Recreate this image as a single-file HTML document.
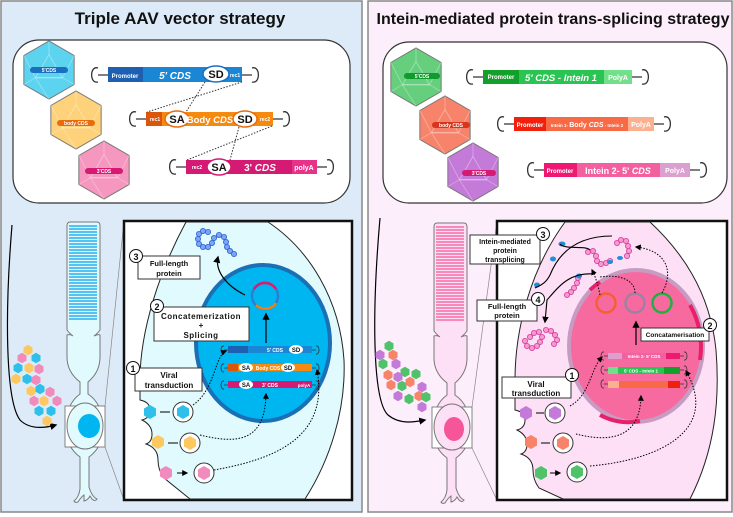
<!DOCTYPE html>
<html><head><meta charset="utf-8"><style>
html,body{margin:0;padding:0;background:#fff;}
svg{display:block;font-family:"Liberation Sans",sans-serif;}
.t{font-weight:bold;fill:#fff;}
.lb{font-weight:bold;fill:#111;}
</style></head><body>
<svg width="733" height="517" viewBox="0 0 733 517" xmlns="http://www.w3.org/2000/svg">
<defs>
<symbol id="hex" viewBox="-31 -31 62 62" overflow="visible">
<polygon points="0,-30 26,-15 26,15 0,30 -26,15 -26,-15" fill="currentColor" stroke="#777" stroke-width="1"/>
<polygon points="0,-16 14,8 -14,8" fill="none" stroke="#fff" stroke-opacity=".35" stroke-width="1"/>
<path d="M0,-30 L0,-16 M26,-15 L14,8 M26,15 L14,8 M0,30 L-14,8 L14,8 M-26,15 L-14,8 M-26,-15 L-14,8" stroke="#fff" stroke-opacity=".3" fill="none"/>
</symbol>
<symbol id="vh" viewBox="-8 -8 16 16" overflow="visible">
<polygon points="0,-7 6,-3.5 6,3.5 0,7 -6,3.5 -6,-3.5" fill="currentColor"/>
</symbol>
<marker id="ar" viewBox="0 0 10 10" refX="8" refY="5" markerWidth="6" markerHeight="6" orient="auto"><path d="M0,0 L10,5 L0,10z" fill="#000"/></marker>
</defs>

<rect x="1" y="1" width="361" height="511" fill="#ddebf8" stroke="#888" stroke-width="1.5"/>
<rect x="368" y="1" width="364" height="511" fill="#fdeefc" stroke="#888" stroke-width="1.5"/>

<text x="180" y="24" text-anchor="middle" class="lb" font-size="17">Triple AAV vector strategy</text>
<text x="553" y="24" text-anchor="middle" class="lb" font-size="16">Intein-mediated protein trans-splicing strategy</text>

<rect x="13" y="40" width="337" height="163" rx="26" fill="#fff" stroke="#333" stroke-width="1.2"/>
<rect x="383" y="42" width="344" height="161" rx="26" fill="#fff" stroke="#333" stroke-width="1.2"/>

<use href="#hex" x="19" y="40" width="60" height="60" style="color:#5cd3ef"/>
<use href="#hex" x="46" y="90" width="60" height="60" style="color:#fdd27a"/>
<use href="#hex" x="74" y="140" width="60" height="60" style="color:#f597be"/>
<rect x="30" y="67" width="38" height="6" rx="3" fill="#1a6fc0"/><text x="49" y="72" font-size="5" text-anchor="middle" class="t">5'CDS</text>
<rect x="57" y="120" width="38" height="6" rx="3" fill="#e86b0c"/><text x="76" y="125" font-size="5" text-anchor="middle" class="t">body CDS</text>
<rect x="85" y="168" width="38" height="6" rx="3" fill="#d41a73"/><text x="104" y="173" font-size="5" text-anchor="middle" class="t">3'CDS</text>

<g stroke="#333" stroke-width="1.3" fill="none">
<path d="M108,75 h-10 m0,-7 c-8,-3 -9,16 0,14 M242,75 h10 m0,-7 c8,-3 9,16 0,14"/>
<path d="M146,119 h-10 m0,-7 c-8,-3 -9,16 0,14 M273,119 h10 m0,-7 c8,-3 9,16 0,14"/>
<path d="M186,167 h-10 m0,-7 c-8,-3 -9,16 0,14 M317,167 h10 m0,-7 c8,-3 9,16 0,14"/>
</g>
<rect x="108" y="67" width="35" height="15" fill="#1d5fb0"/>
<rect x="143" y="67" width="99" height="15" fill="#1a86d4"/>
<text x="125" y="78" font-size="6" text-anchor="middle" class="t">Promoter</text>
<text x="175" y="79" font-size="10" text-anchor="middle" class="t" font-style="italic">5' CDS</text>
<ellipse cx="216" cy="74" rx="13" ry="8" fill="#fff" stroke="#1a6fc0" stroke-width="1.5"/><text x="216" y="78" font-size="11" text-anchor="middle" class="lb">SD</text>
<text x="235" y="77" font-size="5" text-anchor="middle" class="t">rec1</text>

<rect x="146" y="112" width="16" height="14" fill="#d9560a"/>
<rect x="162" y="112" width="111" height="14" fill="#f58a10"/>
<text x="155" y="121" font-size="5" text-anchor="middle" class="t">rec1</text>
<ellipse cx="177" cy="119" rx="12" ry="8" fill="#fff" stroke="#e86b0c" stroke-width="1.5"/><text x="177" y="123" font-size="11" text-anchor="middle" class="lb">SA</text>
<text x="210" y="123" font-size="9.5" text-anchor="middle" class="t">Body <tspan font-style="italic">CDS</tspan></text>
<ellipse cx="245" cy="119" rx="12" ry="8" fill="#fff" stroke="#e86b0c" stroke-width="1.5"/><text x="245" y="123" font-size="11" text-anchor="middle" class="lb">SD</text>
<text x="265" y="121" font-size="5" text-anchor="middle" class="t">rec2</text>

<rect x="186" y="160" width="106" height="14" fill="#d41a73"/>
<rect x="292" y="160" width="25" height="14" fill="#e8328a"/>
<text x="197" y="169" font-size="5" text-anchor="middle" class="t">rec2</text>
<ellipse cx="219" cy="167" rx="12" ry="8" fill="#fff" stroke="#d41a73" stroke-width="1.5"/><text x="219" y="171" font-size="11" text-anchor="middle" class="lb">SA</text>
<text x="260" y="171" font-size="10" text-anchor="middle" class="t">3' <tspan font-style="italic">CDS</tspan></text>
<text x="304" y="170" font-size="7" text-anchor="middle" class="t">polyA</text>
<g stroke="#333" stroke-width="1" stroke-dasharray="1.5,1.5">
<line x1="205" y1="82" x2="186" y2="112"/><line x1="242" y1="82" x2="147" y2="112"/>
<line x1="239" y1="127" x2="230" y2="160"/><line x1="272" y1="126" x2="187" y2="160"/>
</g>

<use href="#hex" x="386" y="47" width="60" height="60" style="color:#66cf7e"/>
<use href="#hex" x="415" y="95" width="60" height="60" style="color:#f7836b"/>
<use href="#hex" x="443" y="142" width="60" height="60" style="color:#c37ad8"/>
<rect x="404" y="73" width="36" height="6" rx="3" fill="#119a30"/><text x="422" y="78" font-size="5" text-anchor="middle" class="t">5'CDS</text>
<rect x="432" y="122" width="38" height="6" rx="3" fill="#d9341c"/><text x="451" y="127" font-size="5" text-anchor="middle" class="t">body CDS</text>
<rect x="462" y="170" width="34" height="6" rx="3" fill="#d41a73"/><text x="479" y="175" font-size="5" text-anchor="middle" class="t">3'CDS</text>

<g stroke="#333" stroke-width="1.3" fill="none">
<path d="M483,77 h-10 m0,-7 c-8,-3 -9,16 0,14 M632,77 h10 m0,-7 c8,-3 9,16 0,14"/>
<path d="M514,124 h-10 m0,-7 c-8,-3 -9,16 0,14 M654,124 h10 m0,-7 c8,-3 9,16 0,14"/>
<path d="M544,170 h-10 m0,-7 c-8,-3 -9,16 0,14 M690,170 h10 m0,-7 c8,-3 9,16 0,14"/>
</g>
<rect x="483" y="70" width="36" height="14" fill="#13a02a"/>
<rect x="519" y="70" width="85" height="14" fill="#29c452"/>
<rect x="604" y="70" width="28" height="14" fill="#72e08a"/>
<text x="501" y="79" font-size="6" text-anchor="middle" class="t">Promoter</text>
<text x="561" y="81" font-size="9.5" text-anchor="middle" class="t" font-style="italic">5' CDS - Intein 1</text>
<text x="618" y="80" font-size="7" text-anchor="middle" class="t">PolyA</text>
<rect x="514" y="117" width="32" height="14" fill="#f0200c"/>
<rect x="546" y="117" width="82" height="14" fill="#f86a45"/>
<rect x="628" y="117" width="26" height="14" fill="#fbb090"/>
<text x="530" y="127" font-size="6" text-anchor="middle" class="t">Promoter</text>
<text x="587" y="127" font-size="7" text-anchor="middle" class="t"><tspan font-size="4.5">Intein 1- </tspan>Body <tspan font-style="italic">CDS</tspan><tspan font-size="4.5"> - Intein 2</tspan></text>
<text x="641" y="127" font-size="7" text-anchor="middle" class="t">PolyA</text>
<rect x="544" y="163" width="33" height="14" fill="#ee1a72"/>
<rect x="577" y="163" width="83" height="14" fill="#f260a0"/>
<rect x="660" y="163" width="30" height="14" fill="#dca0d0"/>
<text x="560" y="173" font-size="6" text-anchor="middle" class="t">Promoter</text>
<text x="618" y="174" font-size="9" text-anchor="middle" class="t">Intein 2- 5' <tspan font-style="italic">CDS</tspan></text>
<text x="675" y="173" font-size="7" text-anchor="middle" class="t">PolyA</text>

<!-- LEFT BOTTOM -->
<path d="M12,225 C5,310 5,400 20,420 C30,430 45,428 56,425" fill="none" stroke="#000" stroke-width="1.2" marker-end="url(#ar)"/>
<g>
<path d="M70,222 h27 q3,0 3,4 v104 q-3,4 -6,6 q4,-2 6,-1 v22 q0,15 -12,25 v12 q15,10 15,33 q0,20 -14,30 v30 q3,10 8,12 q-2,3 -5,0 l-2,-3 q-2,4 -6,5 l0,-6 q-3,2 -6,7 q-3,1 -4,-1 q5,-4 6,-12 v-32 q-14,-10 -14,-30 q0,-23 14,-33 v-12 q-13,-10 -13,-25 v-22 q3,-1 6,1 q-3,-2 -6,-6 v-104 q0,-4 3,-4z" fill="#e0fafd" stroke="#777" stroke-width="1"/>
<g stroke="#29b0ee" stroke-width="1.6">
<line x1="69" y1="226" x2="97" y2="226"/><line x1="69" y1="229" x2="97" y2="229"/><line x1="69" y1="232" x2="97" y2="232"/><line x1="69" y1="235" x2="97" y2="235"/><line x1="69" y1="238" x2="97" y2="238"/><line x1="69" y1="241" x2="97" y2="241"/><line x1="69" y1="244" x2="97" y2="244"/><line x1="69" y1="247" x2="97" y2="247"/><line x1="69" y1="250" x2="97" y2="250"/><line x1="69" y1="253" x2="97" y2="253"/><line x1="69" y1="256" x2="97" y2="256"/><line x1="69" y1="259" x2="97" y2="259"/><line x1="69" y1="262" x2="97" y2="262"/><line x1="69" y1="265" x2="97" y2="265"/><line x1="69" y1="268" x2="97" y2="268"/><line x1="69" y1="271" x2="97" y2="271"/><line x1="69" y1="274" x2="97" y2="274"/><line x1="69" y1="277" x2="97" y2="277"/><line x1="69" y1="280" x2="97" y2="280"/><line x1="69" y1="283" x2="97" y2="283"/><line x1="69" y1="286" x2="97" y2="286"/><line x1="69" y1="289" x2="97" y2="289"/><line x1="69" y1="292" x2="97" y2="292"/><line x1="69" y1="295" x2="97" y2="295"/><line x1="69" y1="298" x2="97" y2="298"/><line x1="69" y1="301" x2="97" y2="301"/><line x1="69" y1="304" x2="97" y2="304"/><line x1="69" y1="307" x2="97" y2="307"/><line x1="69" y1="310" x2="97" y2="310"/><line x1="69" y1="313" x2="97" y2="313"/><line x1="69" y1="316" x2="97" y2="316"/><line x1="69" y1="319" x2="97" y2="319"/>
</g>
<rect x="65" y="406" width="40" height="41" fill="#fff" stroke="#666" stroke-width="0.8"/>
<ellipse cx="85" cy="426" rx="18" ry="23" fill="#e0fafd" stroke="#777"/>
<ellipse cx="89" cy="426" rx="11" ry="12" fill="#00b6f0"/>
<line x1="105" y1="406" x2="124" y2="221" stroke="#888" stroke-width="0.7"/>
<line x1="105" y1="447" x2="124" y2="500" stroke="#888" stroke-width="0.7"/>
</g>
<g>
<use href="#vh" x="22" y="344" width="12" height="12" style="color:#fdc860"/>
<use href="#vh" x="16" y="352" width="12" height="12" style="color:#f28bbd"/>
<use href="#vh" x="30" y="352" width="12" height="12" style="color:#2ec0ea"/>
<use href="#vh" x="12" y="362" width="12" height="12" style="color:#2ec0ea"/>
<use href="#vh" x="23" y="362" width="12" height="12" style="color:#fdc860"/>
<use href="#vh" x="33" y="363" width="12" height="12" style="color:#f28bbd"/>
<use href="#vh" x="10" y="373" width="12" height="12" style="color:#fdc860"/>
<use href="#vh" x="21" y="373" width="12" height="12" style="color:#2ec0ea"/>
<use href="#vh" x="30" y="374" width="12" height="12" style="color:#f28bbd"/>
<use href="#vh" x="25" y="385" width="12" height="12" style="color:#fdc860"/>
<use href="#vh" x="34" y="383" width="12" height="12" style="color:#2ec0ea"/>
<use href="#vh" x="44" y="386" width="12" height="12" style="color:#f28bbd"/>
<use href="#vh" x="28" y="395" width="12" height="12" style="color:#f28bbd"/>
<use href="#vh" x="38" y="395" width="12" height="12" style="color:#fdc860"/>
<use href="#vh" x="51" y="395" width="12" height="12" style="color:#f28bbd"/>
<use href="#vh" x="33" y="405" width="12" height="12" style="color:#2ec0ea"/>
<use href="#vh" x="45" y="405" width="12" height="12" style="color:#2ec0ea"/>
<use href="#vh" x="41" y="415" width="12" height="12" style="color:#fdc860"/>
</g>

<rect x="124" y="221" width="228" height="279" fill="#fff" stroke="#111" stroke-width="2.5"/>
<path d="M186,222 C160,270 140,330 140,380 L140,400 q10,2 10,10 q0,8 -8,10 q10,5 10,14 q0,8 -6,10 q12,4 12,16 q0,10 6,18 L190,499 L305,499 C330,460 346,410 344,360 C340,300 310,250 268,222 Z" fill="#e0fafd" stroke="#222" stroke-width="1"/>
<ellipse cx="263" cy="343" rx="67" ry="78" fill="#00b6f0" stroke="#1b6fb5" stroke-width="4"/>
<circle cx="265" cy="296" r="13" fill="none" stroke="#2a7fd0" stroke-width="2.5"/>
<path d="M254,289 A13,13 0 0 1 276,289" fill="none" stroke="#e0186f" stroke-width="2.5"/>
<path d="M256,305 A13,13 0 0 0 276,303" fill="none" stroke="#f08010" stroke-width="2.5"/>
<line x1="266" y1="343" x2="266" y2="314" stroke="#000" stroke-width="1.2" marker-end="url(#ar)"/>
<path d="M245,295 C225,285 215,270 218,257" fill="none" stroke="#000" stroke-width="1.2" marker-end="url(#ar)"/>
<g fill="#7ba6f5" stroke="#2d5fd0" stroke-width="0.8">
<circle cx="199" cy="234" r="2.6"/><circle cx="203" cy="231" r="2.6"/><circle cx="208" cy="232" r="2.6"/><circle cx="198" cy="239" r="2.6"/><circle cx="199" cy="244" r="2.6"/><circle cx="203" cy="247" r="2.6"/><circle cx="208" cy="247" r="2.6"/><circle cx="212" cy="243" r="2.6"/><circle cx="214" cy="238" r="2.6"/><circle cx="219" cy="235" r="2.6"/><circle cx="224" cy="237" r="2.6"/><circle cx="226" cy="242" r="2.6"/><circle cx="227" cy="247" r="2.6"/><circle cx="230" cy="251" r="2.6"/><circle cx="234" cy="254" r="2.6"/>
</g>
<g stroke="#333" stroke-width="0.8" fill="none">
<path d="M228,350 h-4 m0,-4 c-4,-1 -4,9 0,8 M312,350 h4 m0,-4 c4,-1 4,9 0,8"/>
<path d="M228,368 h-4 m0,-4 c-4,-1 -4,9 0,8 M312,368 h4 m0,-4 c4,-1 4,9 0,8"/>
<path d="M228,385 h-4 m0,-4 c-4,-1 -4,9 0,8 M312,385 h4 m0,-4 c4,-1 4,9 0,8"/>
</g>
<rect x="228" y="346" width="20" height="7" fill="#1d5fb0"/><rect x="248" y="346" width="64" height="7" fill="#1a86d4"/>
<text x="275" y="352" font-size="5" text-anchor="middle" class="t">5' CDS</text>
<ellipse cx="296" cy="349.5" rx="7" ry="4.5" fill="#fff"/><text x="296" y="352" font-size="6" text-anchor="middle" class="lb">SD</text>
<rect x="228" y="364" width="84" height="7" fill="#f58a10"/><rect x="228" y="364" width="10" height="7" fill="#d9560a"/>
<ellipse cx="246" cy="367.5" rx="7" ry="4.5" fill="#fff"/><text x="246" y="370" font-size="6" text-anchor="middle" class="lb">SA</text>
<text x="268" y="370" font-size="5" text-anchor="middle" class="t">Body CDS</text>
<ellipse cx="288" cy="367.5" rx="7" ry="4.5" fill="#fff"/><text x="288" y="370" font-size="6" text-anchor="middle" class="lb">SD</text>
<rect x="228" y="381" width="84" height="7" fill="#d41a73"/>
<ellipse cx="246" cy="384.5" rx="7" ry="4.5" fill="#fff"/><text x="246" y="387" font-size="6" text-anchor="middle" class="lb">SA</text>
<text x="270" y="387" font-size="5" text-anchor="middle" class="t">3' CDS</text>
<text x="304" y="387" font-size="4.5" text-anchor="middle" class="t">polyA</text>
<g>
<use href="#vh" x="142" y="404" width="16" height="16" style="color:#2ec0ea"/>
<circle cx="183" cy="412" r="10" fill="#fff" stroke="#333"/><use href="#vh" x="175" y="404" width="16" height="16" style="color:#2ec0ea"/>
<use href="#vh" x="150" y="434" width="16" height="16" style="color:#fdc860"/>
<circle cx="190" cy="443" r="10" fill="#fff" stroke="#333"/><use href="#vh" x="182" y="435" width="16" height="16" style="color:#fdc860"/>
<use href="#vh" x="158" y="465" width="16" height="16" style="color:#f28bbd"/>
<circle cx="204" cy="473" r="10" fill="#fff" stroke="#333"/><use href="#vh" x="196" y="465" width="16" height="16" style="color:#f28bbd"/>
<path d="M160,412 h10 M168,443 h10 M177,473 h10" stroke="#000" marker-end="url(#ar)"/>
</g>
<g fill="none" stroke="#000" stroke-width="1" stroke-dasharray="1.5,1.5" marker-end="url(#ar)">
<path d="M193,405 C215,390 215,355 226,351"/>
<path d="M200,435 C240,445 265,440 266,394"/>
<path d="M214,470 C270,460 330,440 317,370"/>
</g>
<rect x="138" y="256" width="62" height="23" fill="#fff" stroke="#333"/>
<text x="169" y="266" font-size="7.5" text-anchor="middle" class="lb">Full-length</text><text x="169" y="276" font-size="7.5" text-anchor="middle" class="lb">protein</text>
<circle cx="136" cy="256" r="6.5" fill="#fff" stroke="#111"/><text x="136" y="260" font-size="9" text-anchor="middle" class="lb">3</text>
<rect x="154" y="307" width="95" height="34" fill="#fff" stroke="#333"/>
<text x="201" y="319" font-size="8" text-anchor="middle" class="lb" letter-spacing=".5">Concatemerization</text><text x="201" y="328" font-size="8" text-anchor="middle" class="lb">+</text><text x="201" y="338" font-size="8" text-anchor="middle" class="lb" letter-spacing=".5">Splicing</text>
<circle cx="157" cy="306" r="6.5" fill="#fff" stroke="#111"/><text x="157" y="310" font-size="9" text-anchor="middle" class="lb">2</text>
<rect x="135" y="368" width="67" height="23" fill="#fff" stroke="#333"/>
<text x="169" y="378" font-size="8" text-anchor="middle" class="lb">Viral</text><text x="169" y="388" font-size="8" text-anchor="middle" class="lb">transduction</text>
<circle cx="133" cy="368" r="6.5" fill="#fff" stroke="#111"/><text x="133" y="372" font-size="9" text-anchor="middle" class="lb">1</text>

<!-- RIGHT BOTTOM -->
<path d="M380,218 C372,310 372,400 388,415 C400,425 415,422 425,420" fill="none" stroke="#000" stroke-width="1.2" marker-end="url(#ar)"/>
<g transform="translate(367,1)">
<path d="M70,222 h27 q3,0 3,4 v104 q-3,4 -6,6 q4,-2 6,-1 v22 q0,15 -12,25 v12 q15,10 15,33 q0,20 -14,30 v30 q3,10 8,12 q-2,3 -5,0 l-2,-3 q-2,4 -6,5 l0,-6 q-3,2 -6,7 q-3,1 -4,-1 q5,-4 6,-12 v-32 q-14,-10 -14,-30 q0,-23 14,-33 v-12 q-13,-10 -13,-25 v-22 q3,-1 6,1 q-3,-2 -6,-6 v-104 q0,-4 3,-4z" fill="#fde0f6" stroke="#777" stroke-width="1"/>
<g stroke="#f56aa5" stroke-width="1.6">
<line x1="69" y1="226" x2="97" y2="226"/><line x1="69" y1="229" x2="97" y2="229"/><line x1="69" y1="232" x2="97" y2="232"/><line x1="69" y1="235" x2="97" y2="235"/><line x1="69" y1="238" x2="97" y2="238"/><line x1="69" y1="241" x2="97" y2="241"/><line x1="69" y1="244" x2="97" y2="244"/><line x1="69" y1="247" x2="97" y2="247"/><line x1="69" y1="250" x2="97" y2="250"/><line x1="69" y1="253" x2="97" y2="253"/><line x1="69" y1="256" x2="97" y2="256"/><line x1="69" y1="259" x2="97" y2="259"/><line x1="69" y1="262" x2="97" y2="262"/><line x1="69" y1="265" x2="97" y2="265"/><line x1="69" y1="268" x2="97" y2="268"/><line x1="69" y1="271" x2="97" y2="271"/><line x1="69" y1="274" x2="97" y2="274"/><line x1="69" y1="277" x2="97" y2="277"/><line x1="69" y1="280" x2="97" y2="280"/><line x1="69" y1="283" x2="97" y2="283"/><line x1="69" y1="286" x2="97" y2="286"/><line x1="69" y1="289" x2="97" y2="289"/><line x1="69" y1="292" x2="97" y2="292"/><line x1="69" y1="295" x2="97" y2="295"/><line x1="69" y1="298" x2="97" y2="298"/><line x1="69" y1="301" x2="97" y2="301"/><line x1="69" y1="304" x2="97" y2="304"/><line x1="69" y1="307" x2="97" y2="307"/><line x1="69" y1="310" x2="97" y2="310"/><line x1="69" y1="313" x2="97" y2="313"/><line x1="69" y1="316" x2="97" y2="316"/><line x1="69" y1="319" x2="97" y2="319"/>
</g>
<rect x="65" y="406" width="40" height="41" fill="#fff" stroke="#666" stroke-width="0.8"/>
<ellipse cx="85" cy="426" rx="18" ry="23" fill="#fde0f6" stroke="#777"/>
<ellipse cx="87" cy="428" rx="10" ry="12" fill="#f7559a"/>
</g>
<line x1="472" y1="407" x2="497" y2="221" stroke="#888" stroke-width="0.7"/>
<line x1="472" y1="448" x2="497" y2="500" stroke="#888" stroke-width="0.7"/>
<g>
<use href="#vh" x="383" y="340" width="12" height="12" style="color:#4fc26a"/>
<use href="#vh" x="374" y="349" width="12" height="12" style="color:#c37ad8"/>
<use href="#vh" x="387" y="349" width="12" height="12" style="color:#f7836b"/>
<use href="#vh" x="377" y="358" width="12" height="12" style="color:#4fc26a"/>
<use href="#vh" x="390" y="358" width="12" height="12" style="color:#c37ad8"/>
<use href="#vh" x="399" y="366" width="12" height="12" style="color:#4fc26a"/>
<use href="#vh" x="382" y="369" width="12" height="12" style="color:#f7836b"/>
<use href="#vh" x="392" y="371" width="12" height="12" style="color:#c37ad8"/>
<use href="#vh" x="410" y="368" width="12" height="12" style="color:#4fc26a"/>
<use href="#vh" x="385" y="379" width="12" height="12" style="color:#f7836b"/>
<use href="#vh" x="396" y="380" width="12" height="12" style="color:#4fc26a"/>
<use href="#vh" x="404" y="376" width="12" height="12" style="color:#f7836b"/>
<use href="#vh" x="416" y="381" width="12" height="12" style="color:#c37ad8"/>
<use href="#vh" x="392" y="390" width="12" height="12" style="color:#c37ad8"/>
<use href="#vh" x="403" y="393" width="12" height="12" style="color:#4fc26a"/>
<use href="#vh" x="413" y="390" width="12" height="12" style="color:#f7836b"/>
<use href="#vh" x="420" y="391" width="12" height="12" style="color:#4fc26a"/>
<use href="#vh" x="416" y="401" width="12" height="12" style="color:#c37ad8"/>
</g>

<rect x="497" y="221" width="230" height="279" fill="#fff" stroke="#111" stroke-width="2.5"/>
<path d="M565,222 C530,270 515,330 515,380 L515,410 q10,2 10,10 q0,8 -8,10 q10,5 10,14 q0,8 -6,10 q12,4 12,16 q0,10 6,18 L563,499 L690,499 C715,450 720,400 716,350 C710,290 680,250 650,222 Z" fill="#fde0f6" stroke="#222" stroke-width="1"/>
<ellipse cx="636" cy="346" rx="67" ry="76" fill="#f76aa0" stroke="#c79cc3" stroke-width="4"/>
<path d="M590,290 A67,76 0 0 1 600,282" fill="none" stroke="#ea1f6a" stroke-width="4"/>
<path d="M690,305 A67,76 0 0 1 700,360" fill="none" stroke="#ea1f6a" stroke-width="4"/>
<path d="M600,415 A67,76 0 0 0 640,421" fill="none" stroke="#ea1f6a" stroke-width="4"/>
<circle cx="606" cy="303" r="9.5" fill="none" stroke="#f56030" stroke-width="2.5"/>
<circle cx="635" cy="303" r="9.5" fill="none" stroke="#a080a0" stroke-width="2.5"/>
<circle cx="662" cy="303" r="9.5" fill="none" stroke="#20b040" stroke-width="2.5"/>
<line x1="636" y1="345" x2="636" y2="322" stroke="#000" stroke-width="1.2" marker-end="url(#ar)"/>
<g stroke="#333" stroke-width="0.8" fill="none">
<path d="M608,356 h-4 m0,-4 c-4,-1 -4,9 0,8 M680,356 h4 m0,-4 c4,-1 4,9 0,8"/>
<path d="M608,370 h-4 m0,-4 c-4,-1 -4,9 0,8 M680,370 h4 m0,-4 c4,-1 4,9 0,8"/>
<path d="M608,384 h-4 m0,-4 c-4,-1 -4,9 0,8 M680,384 h4 m0,-4 c4,-1 4,9 0,8"/>
</g>
<rect x="608" y="353" width="14" height="6" fill="#dca0d0"/><rect x="622" y="353" width="44" height="6" fill="#f260a0"/><rect x="666" y="353" width="14" height="6" fill="#ee1a72"/>
<text x="644" y="358" font-size="4.5" text-anchor="middle" class="t">Intein 2- 5' CDS</text>
<rect x="608" y="367" width="10" height="7" fill="#72e08a"/><rect x="618" y="367" width="46" height="7" fill="#29c452"/><rect x="664" y="367" width="16" height="7" fill="#13a02a"/>
<text x="641" y="372.5" font-size="4.5" text-anchor="middle" class="t">5' CDS - Intein 1</text>
<rect x="608" y="381" width="72" height="7" fill="#f86a45"/><rect x="608" y="381" width="11" height="7" fill="#fbb090"/><rect x="668" y="381" width="12" height="7" fill="#f0200c"/>
<g fill="#f49ad0" stroke="#d83a9a" stroke-width="0.8">
<circle cx="617" cy="243" r="2.6"/><circle cx="621" cy="240" r="2.6"/><circle cx="626" cy="241" r="2.6"/><circle cx="628" cy="246" r="2.6"/><circle cx="629" cy="251" r="2.6"/><circle cx="627" cy="256" r="2.6"/>
<circle cx="588" cy="252" r="2.6"/><circle cx="593" cy="251" r="2.6"/><circle cx="596" cy="256" r="2.6"/><circle cx="597" cy="261" r="2.6"/><circle cx="601" cy="264" r="2.6"/><circle cx="606" cy="263" r="2.6"/><circle cx="610" cy="261" r="2.6"/>
<circle cx="578" cy="278" r="2.6"/><circle cx="577" cy="283" r="2.6"/><circle cx="574" cy="288" r="2.6"/><circle cx="571" cy="292" r="2.6"/><circle cx="567" cy="295" r="2.6"/>
<circle cx="530" cy="337" r="2.6"/><circle cx="534" cy="333" r="2.6"/><circle cx="539" cy="332" r="2.6"/><circle cx="542" cy="337" r="2.6"/><circle cx="540" cy="342" r="2.6"/><circle cx="537" cy="346" r="2.6"/><circle cx="532" cy="348" r="2.6"/><circle cx="527" cy="346" r="2.6"/><circle cx="546" cy="330" r="2.6"/><circle cx="551" cy="331" r="2.6"/><circle cx="555" cy="335" r="2.6"/><circle cx="557" cy="340" r="2.6"/><circle cx="554" cy="344" r="2.6"/><circle cx="525" cy="341" r="2.6"/>
</g>
<g fill="#1f8fd8"><ellipse cx="562" cy="244" rx="3.5" ry="2.5"/><ellipse cx="553" cy="259" rx="3" ry="2.5"/><ellipse cx="610" cy="262" rx="3" ry="2"/><ellipse cx="579" cy="276" rx="3" ry="2.5"/><ellipse cx="537" cy="285" rx="3" ry="2.5"/><ellipse cx="620" cy="258" rx="3" ry="2"/></g>
<g fill="none" stroke="#000" stroke-width="1.1">
<path d="M612,236 C580,236 560,250 550,275 C545,285 538,286 535,288"/>
<path d="M595,274 C570,272 560,285 547,300 L545,322" marker-end="url(#ar)"/>
<path d="M560,244 C565,250 585,245 590,250"/>
</g>
<g fill="none" stroke="#000" stroke-width="1" stroke-dasharray="1.5,1.5">
<path d="M600,295 C598,285 596,278 592,270" marker-end="url(#ar)"/>
<path d="M635,293 C635,280 620,274 600,277"/>
<path d="M662,293 C675,270 665,250 636,247" marker-end="url(#ar)"/>
<path d="M570,406 C590,395 590,370 602,357" marker-end="url(#ar)"/>
<path d="M576,434 C600,440 640,445 641,396" marker-end="url(#ar)"/>
<path d="M590,466 C660,460 720,430 686,371" marker-end="url(#ar)"/>
</g>
<g>
<use href="#vh" x="518" y="405" width="16" height="16" style="color:#c37ad8"/>
<circle cx="555" cy="413" r="10" fill="#fff" stroke="#333"/><use href="#vh" x="547" y="405" width="16" height="16" style="color:#c37ad8"/>
<use href="#vh" x="523" y="434" width="16" height="16" style="color:#f7836b"/>
<circle cx="563" cy="443" r="10" fill="#fff" stroke="#333"/><use href="#vh" x="555" y="435" width="16" height="16" style="color:#f7836b"/>
<use href="#vh" x="533" y="465" width="16" height="16" style="color:#4fc26a"/>
<circle cx="577" cy="472" r="10" fill="#fff" stroke="#333"/><use href="#vh" x="569" y="464" width="16" height="16" style="color:#4fc26a"/>
<path d="M536,413 h8 M541,443 h9 M550,473 h10" stroke="#000" marker-end="url(#ar)"/>
</g>
<rect x="470" y="235" width="70" height="29" fill="#fff" stroke="#333"/>
<text x="505" y="244" font-size="7" text-anchor="middle" class="lb">Intein-mediated</text><text x="505" y="253" font-size="7" text-anchor="middle" class="lb">protein</text><text x="505" y="262" font-size="7" text-anchor="middle" class="lb">transplicing</text>
<circle cx="543" cy="234" r="6.5" fill="#fff" stroke="#111"/><text x="543" y="238" font-size="9" text-anchor="middle" class="lb">3</text>
<rect x="477" y="300" width="60" height="21" fill="#fff" stroke="#333"/>
<text x="507" y="309" font-size="7.5" text-anchor="middle" class="lb">Full-length</text><text x="507" y="318" font-size="7.5" text-anchor="middle" class="lb">protein</text>
<circle cx="538" cy="299" r="6.5" fill="#fff" stroke="#111"/><text x="538" y="303" font-size="9" text-anchor="middle" class="lb">4</text>
<rect x="641" y="328" width="68" height="13" fill="#fff" stroke="#333"/>
<text x="675" y="337" font-size="6.5" text-anchor="middle" class="lb">Concatamerisation</text>
<circle cx="710" cy="325" r="6.5" fill="#fff" stroke="#111"/><text x="710" y="329" font-size="9" text-anchor="middle" class="lb">2</text>
<rect x="502" y="377" width="69" height="21" fill="#fff" stroke="#333"/>
<text x="536" y="387" font-size="8" text-anchor="middle" class="lb">Viral</text><text x="536" y="396" font-size="8" text-anchor="middle" class="lb">transduction</text>
<circle cx="572" cy="375" r="6.5" fill="#fff" stroke="#111"/><text x="572" y="379" font-size="9" text-anchor="middle" class="lb">1</text>
</svg>
</body></html>
